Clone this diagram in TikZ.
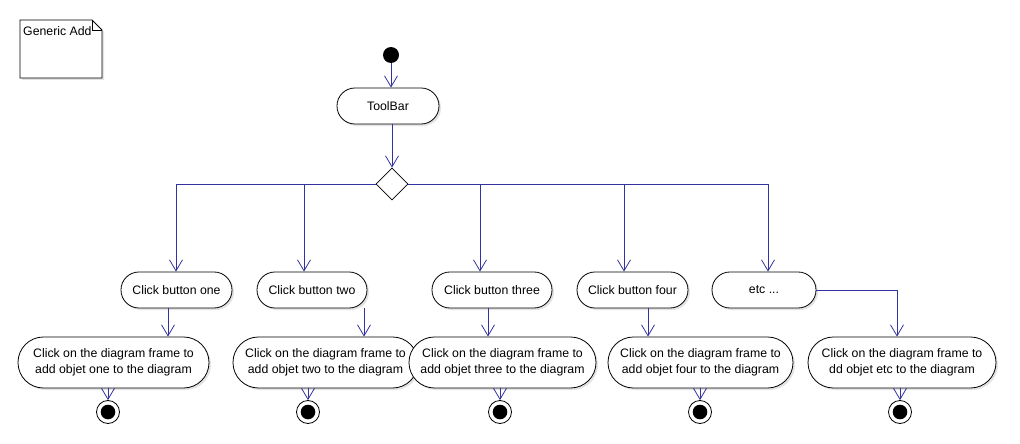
\documentclass[tikz,border=0pt]{standalone}
\usepackage{fontspec}
\setmainfont{Liberation Sans}
\usetikzlibrary{shapes.geometric,arrows.meta,shadows}
\definecolor{flowblue}{RGB}{51,51,160}
\begin{document}
\begin{tikzpicture}[x=1pt,y=-1pt,
  every node/.style={font=\fontsize{12.3}{16}\selectfont},
  shad/.style={drop shadow={shadow xshift=2pt,shadow yshift=-2pt,fill=black!22}},
  act/.style={draw=black, fill=white, line width=0.8pt, inner sep=0pt, align=center, shad},
  actone/.style={act, minimum height=36pt, rounded corners=17.9pt},
  acttwo/.style={act, minimum height=51pt, rounded corners=25.4pt},
  flowline/.style={draw=flowblue, line width=0.8pt},
  flowarrow/.style={flowline, -{Straight Barb[length=11pt,width=13pt,line width=0.8pt]}},
  startc/.style={circle, fill=black, minimum size=16pt, inner sep=0pt},
  endc/.style={circle, draw=black, fill=white, line width=0.8pt, minimum size=23pt, inner sep=0pt,
    path picture={\fill[black] (path picture bounding box.center) circle (7.3pt);}},
  decision/.style={diamond, draw=black, fill=white, line width=0.8pt, minimum width=32pt, minimum height=32pt, inner sep=0pt}
]
\useasboundingbox (0,0) rectangle (1020,444);

% note
\draw[fill=white, line width=0.8pt, shad] (20,20) -- (92,20) -- (102,30) -- (102,78) -- (20,78) -- cycle;
\draw[line width=0.6pt] (92,20) -- (92,30) -- (102,30);
\node[anchor=base west, inner sep=0pt] (note) at (23,36) {Generic Add};

% top
\node[startc] (s) at (391,55) {};
\node[actone, minimum width=102pt] (tb) at (388,106) {ToolBar};
\node[decision] (d) at (392,184) {};

% row 1
\node[actone, minimum width=111pt] (b1) at (176.5,290) {Click button one};
\node[actone, minimum width=110pt] (b2) at (312,290) {Click button two};
\node[actone, minimum width=120pt] (b3) at (492,290) {Click button three};
\node[actone, minimum width=111pt] (b4) at (632.5,290) {Click button four};
\node[actone, minimum width=104pt] (b5) at (764,290) {etc ...};

% row 2
\node[acttwo, minimum width=191pt] (c1) at (113.5,362.5) {Click on the diagram frame to\\add objet one to the diagram};
\node[acttwo, minimum width=185pt] (c2) at (325.5,362.5) {Click on the diagram frame to\\add objet two to the diagram};
\node[acttwo, minimum width=187pt] (c3) at (502.5,362.5) {Click on the diagram frame to\\add objet three to the diagram};
\node[acttwo, minimum width=185pt] (c4) at (700.5,362.5) {Click on the diagram frame to\\add objet four to the diagram};
\node[acttwo, minimum width=188pt] (c5) at (902,362.5) {Click on the diagram frame to\\dd objet etc to the diagram};

% end nodes
\node[endc] (e1) at (108,412) {};
\node[endc] (e2) at (308,412) {};
\node[endc] (e3) at (500,412) {};
\node[endc] (e4) at (700,412) {};
\node[endc] (e5) at (900,412) {};

% branch columns
\coordinate (t1) at (176,0);
\coordinate (t2) at (304,0);
\coordinate (t3) at (480,0);
\coordinate (t4) at (624,0);
\coordinate (t5) at (768,0);
\coordinate (u1) at (168,0);
\coordinate (u2) at (364,0);
\coordinate (u3) at (488,0);
\coordinate (u4) at (648,0);
\coordinate (u5) at (897,0);

% connectors
\draw[flowarrow] (s) -- (s |- tb.north);
\draw[flowarrow] (d.north |- tb.south) -- (d.north);
\draw[flowarrow] (d.west) -| (t1 |- b1.north);
\draw[flowarrow] (d.west) -| (t2 |- b2.north);
\draw[flowarrow] (d.east) -| (t3 |- b3.north);
\draw[flowarrow] (d.east) -| (t4 |- b4.north);
\draw[flowarrow] (d.east) -| (t5 |- b5.north);

\draw[flowarrow] (u1 |- b1.south) -- (u1 |- c1.north);
\draw[flowarrow] (u2 |- b2.south) -- (u2 |- c2.north);
\draw[flowarrow] (u3 |- b3.south) -- (u3 |- c3.north);
\draw[flowarrow] (u4 |- b4.south) -- (u4 |- c4.north);
\draw[flowarrow] (b5.east) -| (u5 |- c5.north);

\draw[flowarrow] (e1 |- c1.south) -- (e1.north);
\draw[flowarrow] (e2 |- c2.south) -- (e2.north);
\draw[flowarrow] (e3 |- c3.south) -- (e3.north);
\draw[flowarrow] (e4 |- c4.south) -- (e4.north);
\draw[flowarrow] (e5 |- c5.south) -- (e5.north);
\end{tikzpicture}
\end{document}
